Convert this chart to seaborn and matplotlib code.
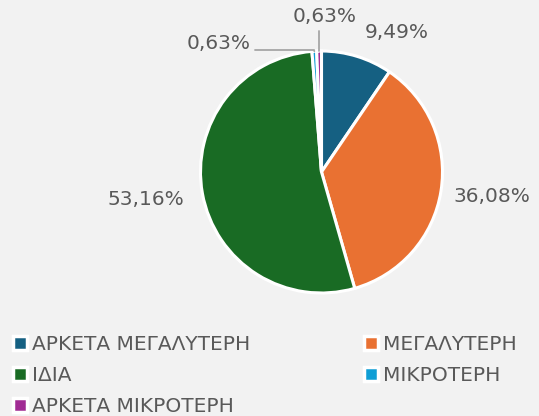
import numpy as np
import seaborn as sns
import matplotlib.pyplot as plt
from matplotlib.lines import Line2D

# data
categories = ["ΑΡΚΕΤΑ ΜΕΓΑΛΥΤΕΡΗ", "ΜΕΓΑΛΥΤΕΡΗ", "ΙΔΙΑ", "ΜΙΚΡΟΤΕΡΗ", "ΑΡΚΕΤΑ ΜΙΚΡΟΤΕΡΗ"]
values = [9.49, 36.08, 53.16, 0.63, 0.63]
labels = ["9,49%", "36,08%", "53,16%", "0,63%", "0,63%"]
colors = ["#156082", "#E97132", "#196B24", "#0F9ED5", "#A02B93"]

sns.set_theme(style="white")
plt.rcParams['font.family'] = ['DejaVu Sans']
bg = "#f2f2f2"
txt = "#595959"

W, H = 539, 416
cx, cy, R = 321.5, 172, 121   # pie centre/radius in pixels

fig = plt.figure(figsize=(W / 100, H / 100), dpi=100, facecolor=bg)
ax = fig.add_axes([0, 0, 1, 1])
ax.set_facecolor(bg)

wedges, _ = ax.pie(values, colors=colors, startangle=90, counterclock=False,
                   wedgeprops=dict(edgecolor="white", linewidth=2.2))
ax.set_xlim(-cx / R, (W - cx) / R)
ax.set_ylim(-(H - cy) / R, cy / R)
ax.set_aspect("auto")
ax.axis("off")

def px(x, y):
    return (x - cx) / R, (cy - y) / R

# label positions (pixels)
label_pos = [(397, 32), (492, 196), (146, 199), (219, 43), (325, 16)]
for lab, (x, y) in zip(labels, label_pos):
    ax.text(*px(x, y), lab, ha="center", va="center", fontsize=14.5, color=txt)

# leader lines for the tiny slices
mids = []
for w in wedges[3:]:
    a = np.deg2rad((w.theta1 + w.theta2) / 2)
    mids.append((np.cos(a), np.sin(a)))
lx, ly = mids[0]
ax.plot([px(255, 0)[0], lx * 1.03, lx], [px(0, 50)[1], px(0, 50)[1], ly * 1.0],
        color="#a6a6a6", lw=1.3)
tx, ty = mids[1]
ax.plot([tx, tx], [ty, px(0, 31)[1]], color="#a6a6a6", lw=1.3)

# legend
order = [0, 2, 4, 1, 3]
handles = [Line2D([], [], marker="s", ls="", markersize=10, markerfacecolor=colors[i],
                  markeredgecolor="white", markeredgewidth=2.5) for i in order]
leg = fig.legend(handles, [categories[i] for i in order], ncol=2,
                 loc="upper left", bbox_to_anchor=(6 / W, 1 - 327 / H),
                 frameon=False, fontsize=14.5, labelcolor=txt,
                 handlelength=0.6, handletextpad=0.3, labelspacing=0.6,
                 columnspacing=5.7, borderaxespad=0)

fig.savefig("out.png", dpi=100, facecolor=bg)
